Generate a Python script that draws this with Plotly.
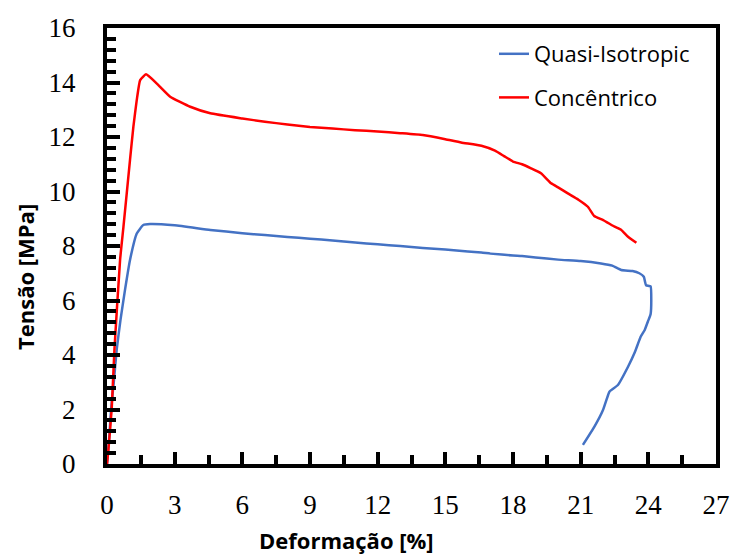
import plotly.graph_objects as go

# Quasi-Isotropic (blue)
qi_x = [0, 0.1, 0.18, 0.3, 0.43, 0.6, 0.8, 1.02, 1.32, 1.61, 1.91, 3, 4.58, 6, 7, 8, 9, 10,
        11, 12, 13, 14, 15, 16, 16.6, 17, 18, 18.4, 19, 20, 21, 21.9, 22.4, 22.8, 23.3, 23.6, 23.8,
        23.85, 23.9, 24.1, 24.13, 24.1, 23.99, 23.84, 23.66, 23.4, 23.1, 22.65, 22.3, 22.24,
        21.99, 21.61, 21.1]
qi_y = [0, 1.0, 2.0, 3.0, 4.2, 5.3, 6.4, 7.49, 8.46, 8.77, 8.81, 8.76, 8.59, 8.47, 8.4,
        8.33, 8.27, 8.2, 8.13, 8.06, 8.0, 7.93, 7.87, 7.8, 7.76, 7.72, 7.65, 7.63, 7.58, 7.5, 7.45,
        7.36, 7.28, 7.12, 7.08, 7.0, 6.87, 6.7, 6.56, 6.52, 6.0, 5.5, 5.25, 4.92, 4.67, 4.1, 3.57,
        2.9, 2.68, 2.59, 1.98, 1.37, 0.70]

# Concêntrico (red)
cc_x = [0, 0.06, 0.21, 0.33, 0.58, 0.73, 1.02, 1.17, 1.32, 1.47, 1.73, 2.2, 2.8, 3.69, 4.58,
        6, 7, 8, 9, 10, 11, 12, 13, 14, 15, 15.7, 16.6, 17.2, 17.6, 18.0, 18.4, 18.8, 19.24, 19.69,
        20.0, 20.43, 20.9, 21.32, 21.6, 22.0, 22.5, 22.8, 23.1, 23.47]
cc_y = [0, 0.5, 2.05, 4.2, 7.49, 8.71, 11.16, 12.38, 13.36, 14.09, 14.3, 13.97, 13.48, 13.11,
        12.87, 12.68, 12.56, 12.46, 12.37, 12.31, 12.25, 12.2, 12.14, 12.07, 11.92, 11.8, 11.68,
        11.5, 11.3, 11.1, 11.0, 10.85, 10.67, 10.3, 10.15, 9.93, 9.7, 9.44, 9.1, 8.95, 8.71, 8.59,
        8.34, 8.12]

x_title = "Deformação [%]"
y_title = "Tensão [MPa]"

fig = go.Figure()
fig.add_trace(go.Scatter(x=qi_x, y=qi_y, mode="lines", name="Quasi-Isotropic",
                         legendgroup="a", line=dict(color="#4472C4", width=2.5, shape="spline", smoothing=0.4)))
fig.add_trace(go.Scatter(x=cc_x, y=cc_y, mode="lines", name="Concêntrico",
                         legendgroup="b", line=dict(color="#FF0000", width=2.5, shape="spline", smoothing=0.4)))

L, R, T, B = 107, 17, 28, 90
W, H = 733, 554
pw = W - L - R
ph = H - T - B

tickfont = dict(family="Liberation Serif", size=27, color="black")
titlefont = dict(family="Open Sans", size=22, color="black", weight="bold")

fig.update_layout(
    width=W, height=H,
    margin=dict(l=L, r=R, t=T, b=B, autoexpand=False),
    plot_bgcolor="white", paper_bgcolor="white",
    showlegend=True,
    legend=dict(
        x=(494 - L) / pw, y=(464 - 33) / ph, xanchor="left", yanchor="top",
        font=dict(family="Open Sans", size=22, color="black"),
        bgcolor="rgba(0,0,0,0)", traceorder="grouped", tracegroupgap=12,
    ),
    xaxis=dict(
        range=[0, 27], tickmode="linear", tick0=0, dtick=3,
        showgrid=False, zeroline=False, showline=True, mirror=True,
        linecolor="black", linewidth=4, automargin=False,
        ticks="inside", ticklen=12, tickwidth=4, tickcolor="rgb(0,0,0)",
        minor=dict(dtick=1.5, tick0=0, ticks="inside", ticklen=9, tickwidth=4, tickcolor="rgb(0,0,0)"),
        tickfont=tickfont, ticklabelstandoff=14,
    ),
    yaxis=dict(
        range=[0, 16], tickmode="linear", tick0=0, dtick=2,
        showgrid=False, zeroline=False, showline=True, mirror=True,
        linecolor="black", linewidth=4, automargin=False,
        ticks="inside", ticklen=13, tickwidth=4, tickcolor="rgb(0,0,0)",
        minor=dict(dtick=0.4, tick0=0, ticks="inside", ticklen=9, tickwidth=4, tickcolor="rgb(0,0,0)"),
        tickfont=tickfont, ticklabelstandoff=22,
    ),
    annotations=[
        dict(text=x_title, xref="paper", yref="paper", x=(346 - L) / pw, y=(464 - 540) / ph,
             xanchor="center", yanchor="middle", showarrow=False, font=titlefont),
        dict(text=y_title, xref="paper", yref="paper", x=(25 - L) / pw, y=(464 - 277) / ph,
             xanchor="center", yanchor="middle", showarrow=False, font=titlefont, textangle=-90),
    ],
)

fig.write_html("out.html")
